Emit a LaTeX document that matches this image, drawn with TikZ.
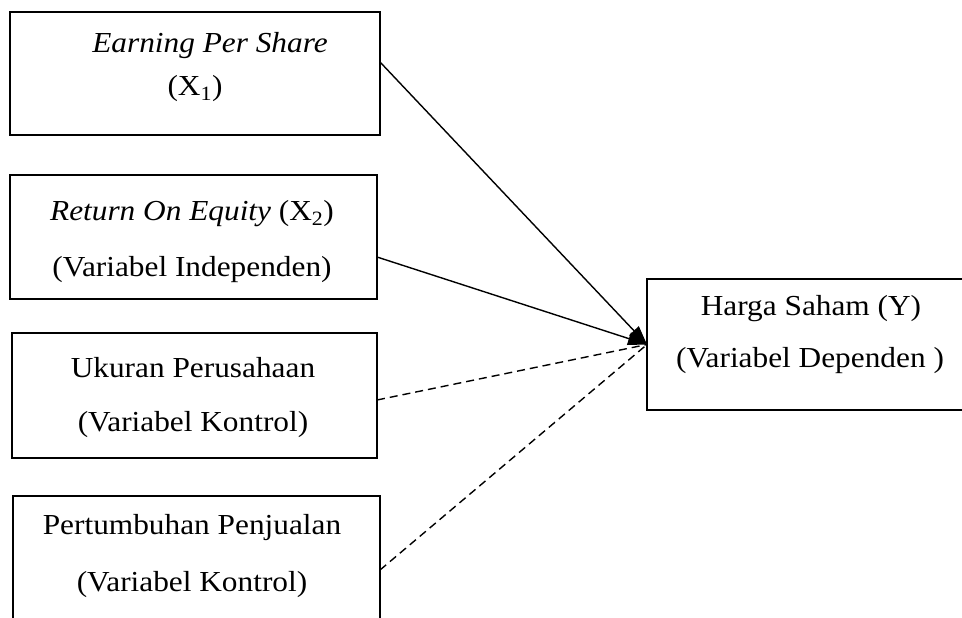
\documentclass[tikz,border=0pt]{standalone}
\usepackage{fontspec}
\setmainfont{Liberation Serif}
\usetikzlibrary{arrows.meta}
\newcommand{\stretchtxt}[1]{\scalebox{1.08}[1]{#1}}
\begin{document}
\begin{tikzpicture}[x=1pt,y=-1pt,
  box/.style={draw=black,line width=2.8pt,rectangle,inner sep=0pt,outer sep=0pt},
  lbl/.style={inner sep=0pt,anchor=center,yshift=-3pt,font=\fontsize{29}{34}\selectfont},
  link/.style={line width=1.4pt,-{Triangle[length=19pt,width=13pt]}},
  ctrl/.style={line width=1.4pt,dash pattern=on 8pt off 5pt}]
\useasboundingbox (0,0) rectangle (962,618);
% boxes
\node[box,minimum width=370pt,minimum height=123pt] (b1) at (195,73.5) {};
\node[box,minimum width=367pt,minimum height=124pt] (b2) at (193.5,237) {};
\node[box,minimum width=365pt,minimum height=125pt] (b3) at (194.5,395.5) {};
\node[box,minimum width=367pt,minimum height=134pt] (b4) at (196.5,563) {};
\node[box,minimum width=321pt,minimum height=131pt] (b5) at (807.5,344.5) {};
% labels
\node[lbl] (t1a) at (210,43) {\stretchtxt{\itshape Earning Per Share}};
\node[lbl] (t1b) at (195,86) {\stretchtxt{(X\textsubscript{1})}};
\node[lbl] (t2a) at (192,211) {\stretchtxt{\textit{Return On Equity} (X\textsubscript{2})}};
\node[lbl] (t2b) at (192,267) {\stretchtxt{(Variabel Independen)}};
\node[lbl] (t3a) at (193,365) {\stretchtxt{Ukuran Perusahaan}};
\node[lbl] (t3b) at (193,422) {\stretchtxt{(Variabel Kontrol)}};
\node[lbl] (t4a) at (192,525) {\stretchtxt{Pertumbuhan Penjualan}};
\node[lbl] (t4b) at (192,582) {\stretchtxt{(Variabel Kontrol)}};
\node[lbl] (t5a) at (811,306) {\stretchtxt{Harga Saham (Y)}};
\node[lbl] (t5b) at (810,358) {\stretchtxt{(Variabel Dependen )}};
% connectors
\draw[link] ([yshift=11.5pt]b1.east) -- (b5.west);
\draw[link] ([yshift=-20pt]b2.east) -- (b5.west);
\draw[ctrl] ([yshift=-4.5pt]b3.east) -- (b5.west);
\draw[ctrl] ([yshift=-7pt]b4.east) -- (b5.west);
\end{tikzpicture}
\end{document}
